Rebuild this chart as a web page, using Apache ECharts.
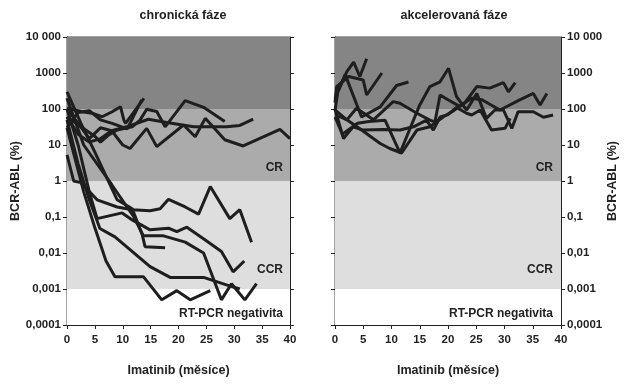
<!DOCTYPE html>
<html>
<head>
<meta charset="utf-8">
<script src="https://cdn.jsdelivr.net/npm/echarts@6/dist/echarts.min.js"></script>
<style>
  html, body { margin: 0; padding: 0; background: #fff; }
  #main { width: 624px; height: 386px; }
</style>
</head>
<body>
<div id="main"></div>
<script>
var chartDom = document.getElementById('main');
var myChart = echarts.init(chartDom);
var option;

// tick labels of the log axis (decades 10^-4 .. 10^4)
const yTickLabels = ['0,0001', '0,001', '0,01', '0,1', '1', '10', '100', '1000', '10 000'];

// chronická fáze - [měsíc, BCR-ABL %]
const chp1 = [[0, 100], [2, 40], [4, 15], [6, 30], [8, 25], [10, 10], [11.3, 8], [14.3, 29], [16.1, 9], [20.9, 36], [23, 17], [24.8, 55], [28.3, 14], [31.6, 9.4], [38.2, 27], [40, 15]];
const chp2 = [[0, 60], [2, 20], [4, 12], [6, 15], [8, 25], [10.7, 32], [14.6, 52], [17.9, 42], [22.7, 32], [28.6, 32], [31, 35], [33.4, 52]];
const chp3 = [[0, 60], [5.1, 17], [6, 12], [7.5, 19], [9, 26], [11.7, 32], [13.1, 49], [14.3, 98], [16.1, 85], [17.6, 32], [21.2, 170], [24.5, 111], [28.3, 45]];
const chp4 = [[0, 106], [2.7, 84], [4.5, 76], [6.3, 61], [8.1, 84], [9.6, 116], [10.2, 49], [10.5, 40], [13.8, 198]];
const chp5 = [[0, 30], [2, 80], [4, 90], [6, 50], [8.1, 40], [10.8, 28], [13.4, 180]];
const chp6 = [[0, 5.3], [1.2, 1], [2.5, 0.9], [5.4, 0.3], [9, 0.19], [11.7, 0.16], [14.9, 0.15], [16.7, 0.17], [18.2, 0.31], [21.2, 0.19], [23.6, 0.12], [25.7, 0.7], [29.2, 0.09], [31, 0.16], [33.1, 0.02]];
const chp7 = [[0, 100], [2, 10], [4, 0.5], [5.4, 0.09], [9.9, 0.13], [11.7, 0.083], [14.9, 0.044], [18.2, 0.049], [19.7, 0.039], [21.5, 0.052], [24.8, 0.023], [27.7, 0.011], [29.8, 0.003], [31.8, 0.006]];
const chp8 = [[0, 300], [2.5, 40], [4.8, 7.3], [9, 0.3], [11.7, 0.17], [13.5, 0.032], [14, 0.015], [17.6, 0.014]];
const chp9 = [[0, 200], [3, 10], [8, 0.8], [12, 0.1], [13.7, 0.03], [17.3, 0.03], [21.2, 0.02], [24.5, 0.01], [27.7, 0.0005], [29.5, 0.0014], [31.9, 0.0005], [34, 0.0014]];
const chp10 = [[0, 50], [2, 3], [4, 0.3], [5.9, 0.048], [8.6, 0.028], [14.9, 0.0042], [18.5, 0.0021], [24.5, 0.0021], [28.6, 0.0013], [31, 0.001]];
const chp11 = [[0, 30], [3, 0.5], [5, 0.05], [7, 0.006], [8.6, 0.0022], [13.7, 0.0022], [17, 0.0005], [19.7, 0.0009], [22.1, 0.0005], [25.7, 0.0009]];

// akcelerovaná fáze
const acp1 = [[0, 90], [0.5, 300], [2.1, 1100], [3.3, 2000], [4.4, 800], [5.6, 2500]];
const acp2 = [[0, 150], [0.3, 420], [2.4, 800], [5, 640], [5.6, 245], [8.3, 1000]];
const acp3 = [[0, 200], [1.8, 900], [4.7, 60], [8, 115], [10.9, 450], [13, 560]];
const acp4 = [[0, 100], [1.5, 15], [3.2, 32], [5, 26], [8.6, 27], [11.5, 26], [13.9, 32], [16.2, 49], [17.4, 26], [18.6, 60], [20, 70], [21.5, 110], [23.3, 76], [24.2, 68], [25.7, 94], [27.7, 26], [30.1, 29], [31, 55]];
const acp5 = [[0, 94], [2.1, 50], [4.7, 26], [8, 11], [9.7, 8], [11.8, 6], [14.5, 26], [16.8, 32], [19.2, 61], [21, 90], [23, 150], [25.1, 420], [27.4, 380], [29.8, 540], [30.7, 300], [31.9, 540]];
const acp6 = [[0, 60], [1.3, 20], [4, 40], [6, 45], [8.85, 49], [11.5, 6], [15, 130], [16.8, 420], [18.6, 570], [20.1, 1350], [21.5, 220], [23.3, 94], [25.1, 270], [26.8, 55], [28.3, 94], [29.8, 94], [31.3, 29], [32.4, 84], [35.1, 84], [36.9, 59], [38.6, 68]];
const acp7 = [[0, 61], [0.9, 61], [2.1, 50], [3.8, 105], [6.8, 50], [10.3, 160], [11.5, 145], [14.5, 76], [16.8, 49], [17.7, 44], [18.6, 245], [20, 180], [22, 120], [24.2, 200], [26, 180], [29.2, 94], [32.7, 180], [35.1, 270], [36.3, 130], [37.5, 270]];

const chronicLines = [chp1, chp2, chp3, chp4, chp5, chp6, chp7, chp8, chp9, chp10, chp11];
const accelLines = [acp1, acp2, acp3, acp4, acp5, acp6, acp7];

// response zones: [from, to, fill, label]
const zones = [
  [100, 10000, '#858585', ''],
  [1, 100, '#ababab', 'CR'],
  [0.001, 1, '#dedede', 'CCR'],
  [0.0001, 0.001, '#ffffff', 'RT-PCR negativita']
];

const font = 'Liberation Sans, Arial, sans-serif';
const txt = { fontFamily: font, fontSize: 11.5, fontWeight: 'bold', color: '#222' };
const txtBig = { fontFamily: font, fontSize: 12.5, fontWeight: 'bold', color: '#222' };

function yLabel(v) {
  return yTickLabels[Math.round(Math.log10(v)) + 4];
}

function bands() {
  return {
    type: 'line',
    data: [],
    silent: true,
    z: 1,
    markArea: {
      silent: true,
      data: zones.map(function (z) {
        return [{ yAxis: z[0], itemStyle: { color: z[2] } }, { yAxis: z[1] }];
      })
    }
  };
}

function yAxisOf(grid, pos, labels) {
  return {
    type: 'log',
    logBase: 10,
    gridIndex: grid,
    position: pos,
    min: 0.0001,
    max: 10000,
    splitNumber: 8,
    name: labels ? 'BCR-ABL (%)' : '',
    nameLocation: 'middle',
    nameGap: 45,
    nameRotate: 90,
    nameTextStyle: txtBig,
    axisLine: { show: true, lineStyle: { color: '#222', width: 1 } },
    axisTick: { show: true, length: 4, lineStyle: { color: '#222' } },
    axisLabel: { show: labels, formatter: yLabel, margin: 6, ...txt },
    splitLine: { show: false }
  };
}

function xAxisOf(grid) {
  return {
    type: 'value',
    gridIndex: grid,
    min: 0,
    max: 40,
    interval: 5,
    name: 'Imatinib (měsíce)',
    nameLocation: 'middle',
    nameGap: 39,
    nameTextStyle: txtBig,
    axisLine: { show: true, lineStyle: { color: '#222', width: 1 } },
    axisTick: { show: true, length: 4, lineStyle: { color: '#222' } },
    axisLabel: { margin: 9, ...txt },
    splitLine: { show: false }
  };
}

function patient(d, xi, yi) {
  return {
    type: 'line',
    xAxisIndex: xi,
    yAxisIndex: yi,
    data: d,
    symbol: 'none',
    z: 3,
    lineStyle: { color: '#1e1e1e', width: 3 },
    animation: false
  };
}

const series = [];
series.push(Object.assign(bands(), { xAxisIndex: 0, yAxisIndex: 0 }));
series.push(Object.assign(bands(), { xAxisIndex: 1, yAxisIndex: 2 }));
chronicLines.forEach(function (d) { series.push(patient(d, 0, 0)); });
accelLines.forEach(function (d) { series.push(patient(d, 1, 2)); });

// zone captions, right-aligned inside each panel
const captionY = { 'CR': 168, 'CCR': 270, 'RT-PCR negativita': 314 };
const graphic = [];
[283, 553].forEach(function (rx) {
  zones.forEach(function (z) {
    if (!z[3]) return;
    graphic.push({
      type: 'text',
      right: 624 - rx,
      top: captionY[z[3]] - 6,
      z: 10,
      style: { text: z[3], fill: '#222', font: 'bold 12px ' + font }
    });
  });
});

option = {
  animation: false,
  title: [
    { text: 'chronická fáze', left: 178, top: 4, textAlign: 'center', textStyle: txtBig },
    { text: 'akcelerovaná fáze', left: 449, top: 4, textAlign: 'center', textStyle: txtBig }
  ],
  grid: [
    { left: 67, right: 334, top: 37, bottom: 61, show: true, borderColor: '#444', borderWidth: 1 },
    { left: 335, right: 63, top: 37, bottom: 61, show: true, borderColor: '#444', borderWidth: 1 }
  ],
  graphic: graphic,
  xAxis: [xAxisOf(0), xAxisOf(1)],
  yAxis: [
    yAxisOf(0, 'left', true),
    yAxisOf(0, 'right', false),
    yAxisOf(1, 'left', false),
    yAxisOf(1, 'right', true)
  ],
  series: series
};

option && myChart.setOption(option);
</script>
</body>
</html>
